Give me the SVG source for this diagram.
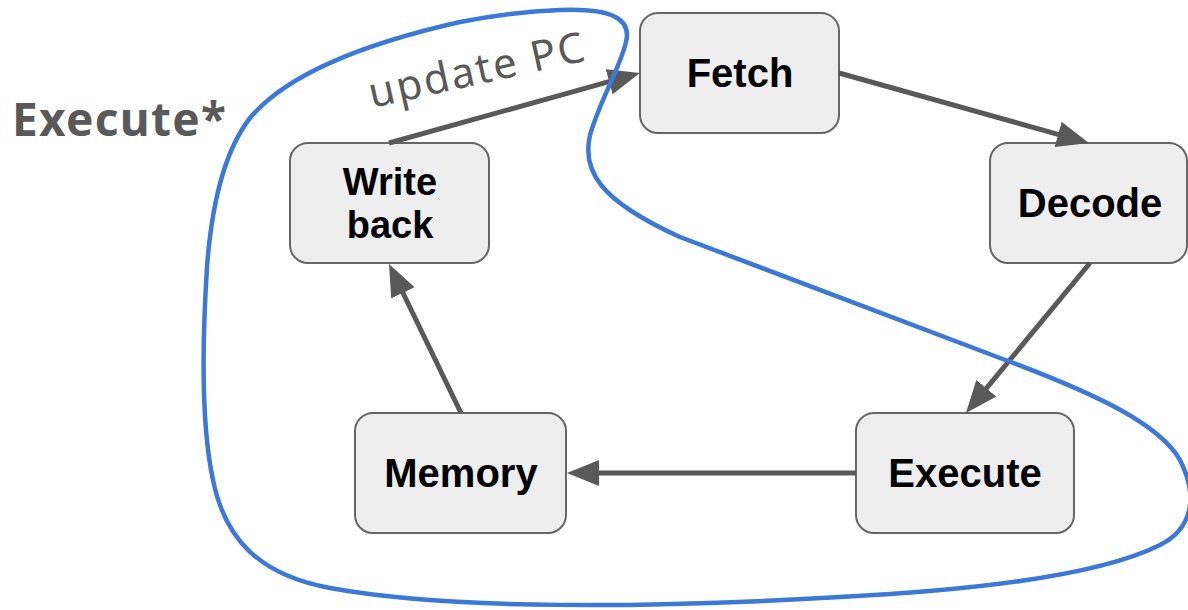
<svg xmlns="http://www.w3.org/2000/svg" width="1188" height="610" viewBox="0 0 1188 610">
  <style>
    .box { fill: #eeeeee; stroke: #666666; stroke-width: 2; }
    .lbl { font-family: "Liberation Sans", Arial, sans-serif; font-weight: bold; font-size: 40px; fill: #000000; text-anchor: middle; }
    .lbl2 { font-size: 38px; }
    .edge { fill: none; stroke: #595959; stroke-width: 5; marker-end: url(#head); }
    .note { font-family: "Noto Sans", "Liberation Sans", sans-serif; fill: #595959; }
  </style>
  <defs>
    <marker id="head" markerUnits="userSpaceOnUse" markerWidth="34" markerHeight="28" refX="12" refY="13" orient="auto">
      <path d="M0,0 L32,13 L0,26 Z" fill="#595959"/>
    </marker>
  </defs>
  <rect width="1188" height="610" fill="#ffffff"/>

  <!-- pipeline stages -->
  <g id="fetch">
    <rect class="box" x="640" y="13" width="199" height="120" rx="18"/>
    <text class="lbl" x="740" y="87">Fetch</text>
  </g>
  <g id="decode">
    <rect class="box" x="990" y="143" width="197" height="120" rx="18"/>
    <text class="lbl" x="1090" y="217">Decode</text>
  </g>
  <g id="execute">
    <rect class="box" x="856" y="413" width="218" height="120" rx="18"/>
    <text class="lbl" x="965" y="487">Execute</text>
  </g>
  <g id="memory">
    <rect class="box" x="355" y="413" width="211" height="120" rx="18"/>
    <text class="lbl" x="461" y="487">Memory</text>
  </g>
  <g id="writeback">
    <rect class="box" x="290" y="143" width="199" height="120" rx="18"/>
    <text class="lbl lbl2" x="390" y="195">Write<tspan x="390" dy="43">back</tspan></text>
  </g>

  <!-- stage transitions -->
  <g id="connectors">
    <line class="edge" x1="839" y1="73" x2="1069.7" y2="137.6"/>
    <line class="edge" x1="1090" y1="263" x2="978.7" y2="397.6"/>
    <line class="edge" x1="856" y1="473" x2="587" y2="473"/>
    <line class="edge" x1="461" y1="413" x2="397.7" y2="282"/>
    <line class="edge" x1="389" y1="143" x2="620.7" y2="78.4"/>
    <text class="note" font-size="42" textLength="220" lengthAdjust="spacing" transform="translate(372,108) rotate(-12.5)">update PC</text>
  </g>

  <!-- outline grouping the execute-side stages -->
  <g id="execute-group">
    <path d="M 560,10 C 610,8 632,18 626,42 C 620,68 600,100 590,135 C 582,170 598,200 680,237 L 1000,358 C 1100,395 1160,425 1180,460 C 1200,500 1190,530 1160,545 C 1100,575 980,590 840,597 C 650,608 450,610 330,588 C 260,575 225,540 213,480 C 200,420 203,330 207,267 C 212,200 225,150 250,118 C 290,70 380,40 460,22 C 500,14 530,11 560,10 Z" fill="none" stroke="#3c78d8" stroke-width="4.5"/>
    <text class="note" font-size="46" font-weight="bold" x="12" y="136" textLength="214" lengthAdjust="spacing">Execute*</text>
  </g>
</svg>
